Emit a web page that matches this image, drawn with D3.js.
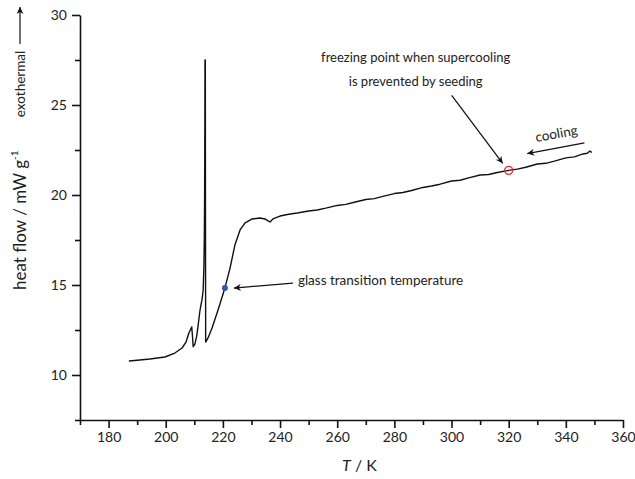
<!DOCTYPE html>
<html>
<head>
<meta charset="utf-8">
<script src="https://cdn.jsdelivr.net/npm/d3@7"></script>
<style>
  body { margin: 0; background: #fff; }
  text { font-family: Lato, "Open Sans", sans-serif; fill: #222; }
</style>
</head>
<body>
<div id="chart"></div>
<script>
// DSC cooling curve, heat flow vs temperature
const temps = [187.1, 190, 194.5, 199.7, 203.2, 205.7, 207.1, 208.1, 209.1, 209.4, 209.6, 210.2, 210.9, 212.0,
  212.7, 213.1, 213.35, 213.5, 213.62, 213.7, 213.74, 213.85, 213.9, 213.97, 214.8, 216.2, 218.3, 220.7, 222.5,
  224.2, 226.0, 227.7, 230.2, 233.0, 234.7, 235.8, 236.5, 237.5, 240, 243, 246, 250, 253, 256, 260, 263, 266,
  270, 273, 276, 280, 283, 286, 290, 293, 296, 300, 303, 306, 310, 313, 316, 320, 323, 326, 330, 333, 336, 340,
  343, 346, 347.5, 348.4, 349.1];
const heatFlow = [10.78, 10.82, 10.89, 11.0, 11.22, 11.5, 11.83, 12.33, 12.67, 12.06, 11.57, 11.72, 12.22, 13.61,
  14.2, 14.72, 16.0, 17.6, 20.5, 24.5, 27.5, 27.5, 19.7, 11.83, 12.06, 12.61, 13.61, 14.83, 15.94,
  17.22, 18.06, 18.44, 18.67, 18.72, 18.67, 18.56, 18.5, 18.67, 18.83, 18.93, 19.0, 19.11, 19.17, 19.27, 19.42,
  19.48, 19.6, 19.75, 19.8, 19.92, 20.08, 20.14, 20.25, 20.42, 20.5, 20.6, 20.78, 20.82, 20.95, 21.11, 21.14,
  21.25, 21.37, 21.44, 21.54, 21.72, 21.76, 21.88, 22.06, 22.12, 22.28, 22.32, 22.44, 22.36];

const xTicks = [180, 200, 220, 240, 260, 280, 300, 320, 340, 360];
const xMinor = [170, 190, 210, 230, 250, 270, 290, 310, 330, 350];
const yTicks = [10, 15, 20, 25, 30];
const yMinor = [7.5, 12.5, 17.5, 22.5, 27.5];

const glassPoint = {t: 220.7, v: 14.83};
const freezePoint = {t: 320, v: 21.37};

const width = 635, height = 479;
const margin = {top: 15, right: 12, bottom: 59, left: 80};

const svg = d3.select('#chart').append('svg')
  .attr('width', width)
  .attr('height', height);

const x = d3.scaleLinear().domain([170, 360]).range([margin.left, width - margin.right]);
const y = d3.scaleLinear().domain([7.5, 30]).range([height - margin.bottom, margin.top]);

svg.append('defs').append('marker')
  .attr('id', 'arrow')
  .attr('viewBox', '0 0 10 10')
  .attr('refX', 10).attr('refY', 5)
  .attr('markerWidth', 9).attr('markerHeight', 7)
  .attr('markerUnits', 'userSpaceOnUse')
  .attr('orient', 'auto')
  .append('path')
  .attr('d', 'M0,0L10,5L0,10L3,5Z')
  .attr('fill', '#111');

// axes
svg.append('g')
  .attr('transform', `translate(0, ${y(7.5)})`)
  .call(d3.axisBottom(x).tickValues(xTicks).tickSize(8).tickSizeOuter(0).tickPadding(4));
svg.append('g')
  .attr('transform', `translate(0, ${y(7.5)})`)
  .call(d3.axisBottom(x).tickValues(xMinor).tickSize(5).tickSizeOuter(0).tickFormat(''))
  .select('.domain').remove();

svg.append('g')
  .attr('transform', `translate(${x(170)}, 0)`)
  .call(d3.axisLeft(y).tickValues(yTicks).tickSize(8).tickSizeOuter(0).tickPadding(5));
svg.append('g')
  .attr('transform', `translate(${x(170)}, 0)`)
  .call(d3.axisLeft(y).tickValues(yMinor).tickSize(5).tickSizeOuter(0).tickFormat(''))
  .select('.domain').remove();

svg.selectAll('.domain, .tick line').attr('stroke', '#111').attr('stroke-width', 1.6);
svg.selectAll('.tick text').style('font-size', '14px').style('font-family', 'Lato, sans-serif').attr('fill', '#222');

// axis titles
const xt = svg.append('text')
  .attr('x', (x(170) + x(360)) / 2 + 8)
  .attr('y', 471)
  .attr('text-anchor', 'middle')
  .style('font-size', '16px');
xt.append('tspan').style('font-style', 'italic').text('T');
xt.append('tspan').text(' / K');

const yt = svg.append('text')
  .attr('transform', `translate(26, ${y(18.6)}) rotate(-90)`)
  .attr('text-anchor', 'middle')
  .style('font-size', '17px');
yt.append('tspan').text('heat flow / mW g');
yt.append('tspan').attr('dy', -8).style('font-size', '10px').text('-1');

svg.append('text')
  .attr('transform', `translate(25, 84) rotate(-90)`)
  .attr('text-anchor', 'middle')
  .style('font-size', '13.5px')
  .text('exothermal');
svg.append('line')
  .attr('x1', 20).attr('y1', 44)
  .attr('x2', 20).attr('y2', 7)
  .attr('stroke', '#111').attr('stroke-width', 1.2)
  .attr('marker-end', 'url(#arrow)');

// curve
const line = d3.line()
  .x((d, i) => x(temps[i]))
  .y(d => y(d));

svg.append('path')
  .datum(heatFlow)
  .attr('d', line)
  .attr('fill', 'none')
  .attr('stroke', '#111')
  .attr('stroke-width', 1.4)
  .attr('stroke-linejoin', 'round');

// markers
svg.append('circle')
  .attr('cx', x(glassPoint.t)).attr('cy', y(glassPoint.v))
  .attr('r', 3)
  .attr('fill', '#3556b0');

svg.append('circle')
  .attr('cx', x(freezePoint.t)).attr('cy', y(freezePoint.v))
  .attr('r', 4)
  .attr('fill', 'none')
  .attr('stroke', '#e8282b')
  .attr('stroke-width', 1.3);

// annotations
svg.append('line')
  .attr('x1', x(glassPoint.t) + 68).attr('y1', y(glassPoint.v) - 5)
  .attr('x2', x(glassPoint.t) + 9).attr('y2', y(glassPoint.v))
  .attr('stroke', '#111').attr('stroke-width', 1.2)
  .attr('marker-end', 'url(#arrow)');
svg.append('text')
  .attr('x', x(glassPoint.t) + 73).attr('y', y(glassPoint.v) - 3)
  .style('font-size', '13.5px')
  .text('glass transition temperature');

svg.append('line')
  .attr('x1', x(freezePoint.t) - 57).attr('y1', y(freezePoint.v) - 75)
  .attr('x2', x(freezePoint.t) - 6).attr('y2', y(freezePoint.v) - 7)
  .attr('stroke', '#111').attr('stroke-width', 1.2)
  .attr('marker-end', 'url(#arrow)');
svg.append('text')
  .attr('x', x(freezePoint.t) - 93).attr('y', 62)
  .attr('text-anchor', 'middle')
  .style('font-size', '13px')
  .text('freezing point when supercooling');
svg.append('text')
  .attr('x', x(freezePoint.t) - 93).attr('y', 86)
  .attr('text-anchor', 'middle')
  .style('font-size', '13px')
  .text('is prevented by seeding');

svg.append('line')
  .attr('x1', x(346.5)).attr('y1', y(22.9))
  .attr('x2', x(326.5)).attr('y2', y(22.3))
  .attr('stroke', '#111').attr('stroke-width', 1.2)
  .attr('marker-end', 'url(#arrow)');
svg.append('text')
  .attr('transform', `translate(${x(337)}, ${y(23.15)}) rotate(-10)`)
  .attr('text-anchor', 'middle')
  .style('font-size', '13.5px')
  .text('cooling');
</script>
</body>
</html>
